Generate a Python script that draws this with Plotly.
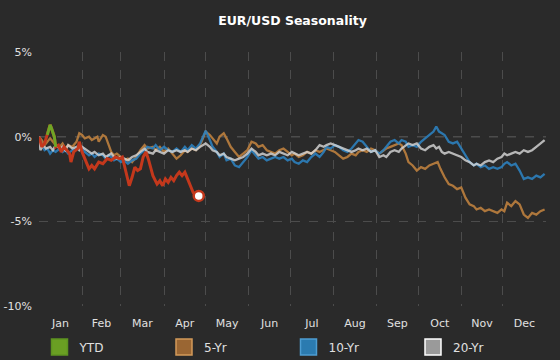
import pandas as pd
import plotly.graph_objects as go

# ---- data (day of year offset, % change from Jan 1) ----
months = ["Jan", "Feb", "Mar", "Apr", "May", "Jun", "Jul", "Aug", "Sep", "Oct", "Nov", "Dec"]
y_ticks = [5, 0, -5, -10]
y_tick_labels = ["5%", "0%", "-5%", "-10%"]

ytd = [(0, 0.0), (2, -0.6), (4, -0.4), (6, 0.1), (8, 0.7), (9, 0.5), (11, 0.0), (12, -0.6),
       (14, -0.5), (16, -0.9), (18, -0.6), (20, -0.8), (22, -1.0), (23, -1.5), (25, -0.9),
       (28, -0.7), (29, -0.3), (31, -0.9), (34, -1.5), (36, -1.9), (38, -1.7), (40, -1.9),
       (43, -1.5), (46, -1.6), (49, -1.3), (52, -1.4), (55, -1.2), (58, -1.3), (60, -1.2),
       (63, -2.2), (65, -2.9), (67, -2.4), (69, -1.8), (71, -2.0), (73, -1.9), (75, -1.2),
       (77, -0.9), (79, -1.4), (82, -2.3), (85, -2.8), (87, -2.6), (89, -2.9), (91, -2.5),
       (93, -2.7), (95, -2.4), (97, -2.6), (99, -2.3), (101, -2.1), (103, -2.3), (105, -2.1),
       (107, -2.5), (109, -2.9), (111, -3.3), (113, -3.4), (115, -3.5)]

five_yr = [(0, 0.0), (2, -0.2), (4, -0.5), (6, -0.3), (8, -0.1), (10, -0.3), (12, -0.5),
           (15, -0.6), (17, -0.4), (19, -0.7), (21, -0.5), (24, -0.6), (27, -0.3), (29, 0.2),
           (31, 0.1), (33, -0.1), (36, 0.0), (38, -0.2), (40, -0.1), (42, 0.0), (43, -0.3),
           (46, 0.1), (48, 0.0), (50, -0.4), (52, -0.9), (54, -1.1), (56, -1.0), (59, -1.2),
           (61, -1.4), (64, -1.3), (67, -1.5), (70, -1.2), (73, -0.8), (76, -0.5), (78, -0.7),
           (82, -0.6), (84, -0.8), (87, -0.6), (90, -0.9), (93, -0.7), (96, -1.0), (99, -1.3),
           (102, -1.1), (105, -0.8), (107, -0.9), (110, -0.7), (113, -0.8), (116, -0.5),
           (120, 0.3), (123, 0.1), (125, -0.1), (128, -0.4), (130, 0.0), (133, 0.2), (135, -0.1),
           (138, -0.6), (141, -0.9), (144, -1.2), (147, -1.0), (150, -0.8), (153, -0.3),
           (156, -0.4), (158, -0.6), (161, -0.5), (164, -0.8), (167, -0.9), (170, -1.0),
           (173, -0.8), (176, -0.7), (179, -0.9), (182, -1.1), (184, -1.0), (187, -1.2),
           (190, -1.1), (193, -0.9), (196, -1.0), (199, -0.8), (202, -0.9), (205, -0.8),
           (207, -0.7), (210, -0.8), (213, -0.9), (216, -1.1), (219, -1.3), (222, -1.2),
           (225, -1.0), (228, -1.1), (230, -0.9), (233, -0.8), (236, -0.9), (239, -0.7),
           (242, -0.8), (245, -1.0), (248, -0.8), (250, -0.7), (253, -0.6), (256, -0.5),
           (259, -0.4), (261, -0.5), (264, -1.0), (266, -1.5), (269, -1.7), (272, -2.0),
           (275, -1.8), (278, -1.9), (281, -1.7), (284, -1.6), (287, -1.5), (289, -1.9),
           (292, -2.4), (295, -2.8), (298, -2.9), (301, -3.1), (304, -3.0), (307, -3.6),
           (310, -4.0), (313, -4.1), (315, -4.3), (318, -4.2), (321, -4.4), (324, -4.3),
           (327, -4.4), (330, -4.5), (333, -4.3), (335, -4.4), (337, -3.9), (340, -4.1),
           (343, -3.8), (346, -4.0), (349, -4.6), (352, -4.8), (355, -4.5), (358, -4.6),
           (361, -4.4), (364, -4.3)]

ten_yr = [(0, 0.0), (2, -0.5), (4, -0.8), (6, -0.7), (8, -1.0), (10, -0.8), (12, -0.9),
          (15, -0.7), (17, -0.9), (19, -0.8), (21, -1.0), (24, -0.8), (27, -0.7), (29, -0.5),
          (31, -0.6), (33, -0.9), (36, -1.1), (38, -1.0), (40, -1.2), (43, -1.0), (46, -1.1),
          (48, -1.3), (50, -1.1), (52, -1.2), (54, -1.4), (56, -1.3), (59, -1.5), (61, -1.4),
          (64, -1.6), (67, -1.4), (70, -1.3), (73, -1.0), (76, -0.8), (78, -0.6), (82, -0.7),
          (84, -0.5), (87, -0.8), (90, -0.6), (93, -0.8), (96, -0.9), (99, -0.7), (102, -0.9),
          (105, -0.6), (107, -0.8), (110, -0.5), (113, -0.7), (116, -0.4), (118, 0.0),
          (120, 0.35), (123, -0.2), (125, -0.6), (128, -0.9), (130, -1.2), (133, -1.0),
          (135, -1.4), (138, -1.3), (141, -1.7), (144, -1.8), (147, -1.5), (150, -1.2),
          (153, -0.8), (156, -1.1), (158, -1.3), (161, -1.2), (164, -1.4), (167, -1.3),
          (170, -1.2), (173, -1.3), (176, -1.2), (179, -1.4), (182, -1.3), (184, -1.5),
          (187, -1.6), (190, -1.4), (193, -1.5), (196, -1.2), (199, -1.0), (202, -1.2),
          (205, -0.9), (207, -0.6), (210, -0.7), (213, -0.5), (216, -0.6), (219, -0.8),
          (222, -0.9), (225, -0.7), (228, -0.4), (230, -0.2), (233, -0.3), (236, -0.6),
          (239, -0.9), (242, -0.8), (245, -1.0), (248, -0.8), (250, -0.6), (253, -0.3),
          (256, -0.2), (259, -0.4), (261, -0.2), (264, -0.3), (266, -0.6), (269, -0.5),
          (272, -0.6), (275, -0.3), (278, -0.1), (281, 0.1), (284, 0.3), (286, 0.6),
          (288, 0.3), (290, 0.2), (292, 0.1), (295, -0.3), (298, -0.4), (301, -0.3),
          (304, -0.7), (307, -1.1), (310, -1.5), (313, -1.7), (315, -1.6), (318, -1.8),
          (321, -1.7), (324, -1.9), (327, -1.8), (330, -1.9), (333, -1.8), (335, -1.6),
          (337, -1.5), (340, -1.7), (343, -1.6), (346, -2.0), (349, -2.5), (352, -2.4),
          (355, -2.5), (358, -2.3), (361, -2.4), (364, -2.2)]

twenty_yr = [(0, 0.0), (1, -0.8), (3, -0.5), (5, -0.7), (8, -0.6), (10, -0.8), (12, -0.5),
             (15, -0.7), (17, -0.6), (19, -0.8), (21, -0.5), (24, -0.7), (27, -0.6), (29, -0.8),
             (31, -0.6), (33, -0.7), (36, -0.9), (38, -1.0), (40, -0.9), (43, -1.1), (46, -1.0),
             (48, -1.2), (50, -1.1), (52, -1.0), (54, -1.2), (56, -1.3), (59, -1.2), (61, -1.3),
             (64, -1.4), (67, -1.2), (70, -1.1), (73, -0.9), (76, -0.7), (78, -0.9), (82, -1.0),
             (84, -0.8), (87, -0.9), (90, -1.0), (93, -0.8), (96, -0.9), (99, -0.8), (102, -0.9),
             (105, -0.8), (107, -0.9), (110, -0.7), (113, -0.8), (116, -0.6), (120, -0.4),
             (123, -0.6), (125, -0.8), (128, -0.9), (130, -1.1), (133, -1.0), (135, -1.2),
             (138, -1.3), (141, -1.4), (144, -1.3), (147, -1.2), (150, -1.0), (153, -0.7),
             (156, -0.9), (158, -1.1), (161, -1.0), (164, -1.1), (167, -1.0), (170, -1.1),
             (173, -0.9), (176, -1.0), (179, -1.1), (182, -0.9), (184, -1.0), (187, -1.1),
             (190, -1.0), (193, -0.9), (196, -1.0), (199, -0.8), (202, -0.5), (205, -0.6),
             (207, -0.5), (210, -0.4), (213, -0.5), (216, -0.6), (219, -0.7), (222, -0.8),
             (225, -0.9), (228, -0.8), (230, -0.7), (233, -0.8), (236, -0.7), (239, -0.9),
             (242, -0.8), (245, -1.2), (248, -1.1), (250, -1.2), (253, -0.9), (256, -0.8),
             (259, -0.9), (261, -0.7), (264, -0.5), (266, -0.4), (269, -0.5), (272, -0.4),
             (275, -0.7), (278, -0.8), (281, -0.6), (284, -0.5), (286, -0.7), (288, -0.6),
             (290, -0.9), (292, -1.0), (295, -0.9), (298, -1.0), (301, -1.1), (304, -1.2),
             (307, -1.4), (310, -1.5), (313, -1.7), (315, -1.6), (318, -1.7), (321, -1.5),
             (324, -1.4), (327, -1.5), (330, -1.3), (333, -1.2), (335, -1.0), (337, -1.1),
             (340, -1.0), (343, -0.9), (346, -1.0), (349, -0.8), (352, -0.9), (355, -0.8),
             (358, -0.6), (361, -0.4), (364, -0.2)]

YEAR_START = pd.Timestamp("2019-01-01")


def to_xy(pairs):
    d = [p[0] for p in pairs]
    v = [p[1] for p in pairs]
    return list(YEAR_START + pd.to_timedelta(d, unit="D")), v


BG = "#2a2a2a"
FONT = "DejaVu Sans"
W, H = 560, 360

fig = go.Figure()

series = [
    ("5-Yr", five_yr, "rgba(188,128,62,0.9)"),
    ("10-Yr", ten_yr, "rgba(44,128,188,0.9)"),
    ("20-Yr", twenty_yr, "rgba(214,214,214,0.82)"),
]
for name, pairs, lc in series:
    x, y = to_xy(pairs)
    fig.add_trace(go.Scatter(x=x, y=y, mode="lines", line=dict(color=lc, width=2.3),
                             legendgroup=name, showlegend=False, hoverinfo="skip"))

# YTD: red where below zero, green for the early positive spike
x_ytd, y_ytd = to_xy(ytd)
fig.add_trace(go.Scatter(x=x_ytd, y=y_ytd, mode="lines", line=dict(color="#c4381c", width=3),
                         legendgroup="YTD", showlegend=False, hoverinfo="skip"))
fig.add_trace(go.Scatter(x=x_ytd[3:8], y=y_ytd[3:8], mode="lines", line=dict(color="#6ea626", width=3),
                         legendgroup="YTD", showlegend=False, hoverinfo="skip"))
fig.add_trace(go.Scatter(x=x_ytd[-1:], y=y_ytd[-1:], mode="markers",
                         marker=dict(color="#ffffff", size=10, line=dict(color="#c4381c", width=2.5)),
                         legendgroup="YTD", showlegend=False, hoverinfo="skip"))

# legend entries (square swatches)
legend_items = [("YTD", "#6a9f23", "#5e9420"),
                ("5-Yr", "#9a6633", "#d39a5a"),
                ("10-Yr", "#2b7bb0", "#4d9dd2"),
                ("20-Yr", "#9a9a9a", "#ffffff")]
for name, fill, border in legend_items:
    fig.add_trace(go.Scatter(x=[None], y=[None], mode="markers", name=name, legendgroup=name,
                             marker=dict(symbol="square", size=16, color=fill,
                                         line=dict(color=border, width=1.5))))

fig.add_shape(type="line", xref="paper", x0=0, x1=1, yref="y", y0=0, y1=0,
              line=dict(color="#9a9a9a", width=1, dash="dash"), layer="below")

fig.update_layout(
    width=W, height=H,
    paper_bgcolor=BG, plot_bgcolor=BG,
    margin=dict(l=39, r=14, t=52, b=54, pad=0, autoexpand=False),
    font=dict(family=FONT, color="#e0e0e0", size=11),
    title=dict(text="<b>EUR/USD Seasonality</b>", x=0.5, xref="paper", xanchor="center",
               y=1 - 21 / H, yref="container", yanchor="middle",
               font=dict(family=FONT, size=12.5, color="#ffffff")),
    showlegend=True,
    legend=dict(orientation="h", x=39.5 / W, xanchor="left", xref="container",
                y=13 / H, yref="container", yanchor="middle",
                entrywidth=79.5, entrywidthmode="pixels",
                font=dict(family=FONT, size=12, color="#e0e0e0"),
                bgcolor="rgba(0,0,0,0)", itemclick=False, itemdoubleclick=False),
    xaxis=dict(type="date", range=[YEAR_START, pd.Timestamp("2020-01-01")],
               tick0="2019-01-01", dtick="M1", tickformat="%b", ticklabelmode="period",
               showgrid=True, gridcolor="#4c4c4c", griddash="dash", gridwidth=1,
               zeroline=False, showline=False, ticks="", ticklabelstandoff=9,
               tickfont=dict(family=FONT, size=11, color="#e0e0e0"), fixedrange=True),
    yaxis=dict(range=[-10, 5], tickmode="array", tickvals=y_ticks, ticktext=y_tick_labels,
               showgrid=True, gridcolor="#4c4c4c", griddash="dash", gridwidth=1,
               zeroline=False, showline=False, ticks="", ticklabelstandoff=6,
               tickfont=dict(family=FONT, size=11, color="#e0e0e0"), fixedrange=True),
)

fig.write_html("out.html", config={"displayModeBar": False},
               post_script="document.body.style.margin='0';document.body.style.overflow='hidden';")
